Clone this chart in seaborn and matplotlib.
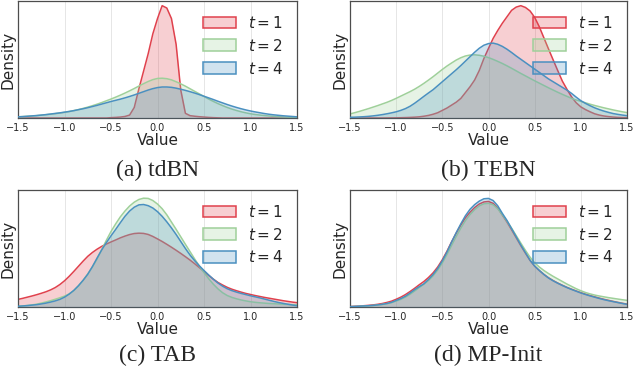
import numpy as np
import pandas as pd
import matplotlib
matplotlib.use("Agg")
import matplotlib.pyplot as plt
from matplotlib.patches import Patch
from matplotlib.colors import to_rgba
import seaborn as sns

# ---------------- data (density, arbitrary units = % of panel height)
x_grid = np.round(np.linspace(-1.5, 1.5, 61), 2)   # sample positions, step 0.05
x_ticks = [-1.5, -1.0, -0.5, 0.0, 0.5, 1.0, 1.5]
series_labels = ["$t = 1$", "$t = 2$", "$t = 4$"]
panel_captions = ["(a) tdBN", "(b) TEBN", "(c) TAB", "(d) MP-Init"]

tdbn_t1 = [0]*20 + [0.3, 0.5, 0.8, 1.3, 2.5, 9, 25, 40, 55, 72,
                    85, 96, 94, 85, 63, 24, 4, 2, 1.5, 1.1,
                    0.8, 0.5, 0.3, 0.15] + [0]*17
tdbn_t2 = [1.0, 1.2, 1.4, 1.7, 2.0, 2.4, 2.8, 3.2, 3.7, 4.2,
           4.8, 5.5, 6.3, 7.2, 8.2, 9.3, 10.5, 11.8, 13.2, 14.7,
           16.2, 17.8, 19.5, 21.3, 23.2, 25.2, 27.3, 29.3, 31.2, 32.8,
           33.8, 34.0, 33.6, 32.6, 31.0, 29.2, 27.2, 25.0, 22.8, 20.6,
           18.4, 16.2, 14.2, 12.3, 10.6, 9.0, 7.6, 6.4, 5.3, 4.4,
           3.6, 3.0, 2.5, 2.1, 1.7, 1.4, 1.1, 0.9, 0.7, 0.55, 0.45]
tdbn_t4 = [1.0, 1.2, 1.5, 1.8, 2.1, 2.5, 2.9, 3.4, 3.9, 4.4,
           5.0, 5.6, 6.3, 7.1, 7.9, 8.8, 9.8, 10.8, 11.9, 13.0,
           14.1, 15.1, 16.1, 17.2, 18.4, 19.7, 21.1, 22.5, 23.9, 25.1,
           26.0, 26.5, 26.5, 26.2, 25.5, 24.6, 23.6, 22.5, 21.3, 20.0,
           18.6, 17.2, 15.8, 14.3, 12.9, 11.5, 10.2, 9.0, 7.9, 6.9,
           6.0, 5.2, 4.5, 3.8, 3.2, 2.7, 2.3, 1.9, 1.6, 1.3, 1.0]

tebn_t1 = [0, 0, 0, 0, 0, 0, 0, 0, 0.05, 0.1,
           0.15, 0.25, 0.35, 0.5, 0.7, 1.0, 1.5, 2.2, 3.2, 4.5,
           6.5, 8.5, 11.0, 13.5, 16.7, 21.7, 26.7, 32.5, 40.6, 50.8,
           59.5, 68.0, 74.8, 81.0, 86.5, 92.0, 94.8, 96.0, 94.5, 91.5,
           86.0, 78.0, 68.5, 59.0, 49.7, 40.5, 31.5, 24.5, 18.0, 13.0,
           9.5, 7.2, 5.3, 3.6, 2.5, 1.7, 1.2, 0.8, 0.5, 0.35, 0.25]
tebn_t2 = [3.5, 4.5, 5.6, 6.8, 8.0, 9.3, 10.6, 12.0, 13.4, 15.0,
           16.8, 18.7, 20.6, 22.5, 24.6, 27.0, 29.6, 32.4, 35.3, 38.4,
           41.5, 44.4, 47.0, 49.5, 51.5, 53.0, 53.8, 54.0, 53.6, 52.8,
           51.6, 50.1, 48.4, 46.6, 44.6, 42.5, 40.3, 38.1, 36.0, 33.9,
           31.8, 29.8, 27.8, 25.8, 23.9, 22.0, 20.2, 18.5, 16.8, 15.4,
           14.2, 13.0, 11.8, 10.7, 9.7, 8.7, 7.8, 6.9, 6.1, 5.3, 4.6]
tebn_t4 = [0.6, 0.7, 0.9, 1.1, 1.4, 1.8, 2.3, 2.9, 3.6, 4.4,
           5.3, 6.5, 8.0, 10.0, 12.6, 15.5, 18.5, 21.4, 24.2, 27.6,
           31.0, 34.4, 37.8, 41.2, 44.8, 48.6, 52.4, 56.2, 59.6, 62.2,
           63.6, 64.0, 63.0, 61.2, 58.8, 56.0, 53.0, 50.2, 47.4, 44.6,
           41.8, 39.0, 36.2, 33.4, 31.0, 28.6, 26.2, 23.8, 21.0, 17.8,
           14.8, 12.5, 10.5, 8.7, 7.2, 5.9, 4.8, 3.8, 3.1, 2.5, 2.0]

tab_t1 = [6.5, 7.4, 8.4, 9.4, 10.5, 11.7, 13.0, 14.6, 16.6, 19.2,
          22.4, 26.2, 30.4, 34.8, 39.2, 43.3, 46.6, 49.4, 51.8, 53.8,
          55.6, 57.3, 59.1, 60.6, 61.9, 62.8, 63.1, 62.9, 62.0, 60.3,
          58.2, 56.0, 53.6, 51.1, 48.5, 45.8, 43.0, 40.1, 37.0, 33.7,
          30.4, 27.0, 23.8, 21.0, 18.8, 16.8, 15.2, 13.9, 12.7, 11.6,
          10.7, 9.8, 9.0, 8.2, 7.5, 6.8, 6.1, 5.4, 4.8, 4.2, 3.7]
tab_t2 = [0.6, 0.9, 1.3, 1.8, 2.4, 3.3, 4.3, 5.4, 6.6, 7.9,
          9.3, 11.2, 14.0, 18.0, 22.8, 28.2, 34.3, 41.0, 49.0, 57.0,
          64.5, 71.0, 77.0, 82.0, 86.3, 89.6, 91.9, 93.0, 92.8, 91.0,
          88.0, 84.0, 78.8, 72.6, 66.4, 60.0, 53.6, 47.3, 41.0, 35.0,
          29.4, 24.2, 19.5, 15.5, 12.2, 9.8, 8.2, 7.0, 6.0, 5.2,
          4.5, 4.0, 3.6, 3.3, 3.0, 2.8, 2.6, 2.4, 2.2, 2.0, 1.8]
tab_t4 = [0.6, 0.9, 1.2, 1.6, 2.0, 2.6, 3.3, 4.2, 5.2, 6.5,
          8.4, 11.0, 14.2, 18.2, 22.8, 28.0, 34.5, 41.8, 48.8, 55.0,
          60.8, 66.3, 72.0, 77.5, 82.0, 85.3, 87.3, 87.6, 86.6, 84.6,
          81.5, 77.5, 72.8, 67.6, 62.0, 56.0, 50.0, 44.4, 39.6, 35.2,
          31.2, 27.4, 23.8, 20.5, 17.8, 15.6, 14.0, 12.7, 11.6, 10.6,
          9.6, 8.7, 7.8, 6.8, 5.8, 4.8, 3.9, 3.1, 2.4, 1.7, 1.1]

mpinit_t1 = [0.4, 0.6, 0.8, 1.1, 1.4, 1.8, 2.3, 3.0, 3.9, 5.0,
             6.6, 8.4, 10.6, 13.2, 16.0, 19.0, 21.8, 25.2, 29.2, 34.2,
             40.4, 47.6, 55.6, 63.0, 70.0, 76.2, 81.0, 85.0, 88.0, 89.8,
             90.2, 88.6, 84.6, 78.6, 72.6, 66.0, 59.2, 52.4, 46.0, 39.8,
             34.9, 31.2, 27.9, 25.0, 22.6, 20.5, 18.6, 16.8, 15.2, 13.7,
             12.3, 11.0, 9.8, 8.7, 7.6, 6.6, 5.7, 4.8, 4.0, 3.2, 2.5]
mpinit_t2 = [0.3, 0.4, 0.6, 0.8, 1.0, 1.3, 1.7, 2.2, 2.8, 3.7,
             5.0, 6.5, 8.4, 10.8, 13.6, 16.6, 19.4, 22.6, 26.6, 31.6,
             37.6, 44.8, 52.6, 60.2, 67.4, 73.8, 79.0, 83.2, 86.4, 88.2,
             88.6, 87.4, 84.0, 78.8, 73.4, 67.4, 61.0, 54.6, 48.4, 42.6,
             37.8, 34.2, 31.2, 28.6, 26.2, 24.0, 21.8, 19.6, 17.6, 15.6,
             13.9, 12.4, 11.2, 10.2, 9.4, 8.7, 8.0, 7.4, 6.8, 6.2, 5.7]
mpinit_t4 = [0.3, 0.5, 0.7, 0.9, 1.1, 1.4, 1.8, 2.3, 3.0, 4.0,
             5.6, 7.2, 9.2, 11.9, 14.8, 17.4, 19.8, 23.5, 27.8, 33.0,
             39.5, 47.0, 55.5, 63.5, 71.0, 78.0, 83.5, 87.5, 90.5, 92.5,
             92.8, 91.0, 86.5, 80.0, 74.0, 67.0, 60.0, 53.0, 46.5, 40.0,
             35.0, 31.3, 27.8, 24.8, 22.4, 20.3, 18.4, 16.6, 15.0, 13.5,
             12.0, 10.7, 9.5, 8.4, 7.3, 6.3, 5.4, 4.6, 3.8, 3.0, 2.3]

panels = {
    "(a) tdBN": [tdbn_t1, tdbn_t2, tdbn_t4],
    "(b) TEBN": [tebn_t1, tebn_t2, tebn_t4],
    "(c) TAB": [tab_t1, tab_t2, tab_t4],
    "(d) MP-Init": [mpinit_t1, mpinit_t2, mpinit_t4],
}

rows = []
for cap, series in panels.items():
    for lab, vals in zip(series_labels, series):
        for xv, dv in zip(x_grid, vals):
            rows.append((cap, lab, xv, dv))
df = pd.DataFrame(rows, columns=["panel", "t", "Value", "Density"])

# ---------------- style
sns.set_style("white")
plt.rcParams["font.family"] = ["DejaVu Sans"]
plt.rcParams["mathtext.fontset"] = "dejavusans"

colors = ["#e0414d", "#9fd09a", "#4a90c0"]

fig = plt.figure(figsize=(6.36, 3.70), dpi=100)
W, H = 636.0, 370.0
boxes = [(18, 1, 297, 118), (350, 1, 627, 118),
         (18, 190, 297, 307), (350, 190, 627, 307)]
caption_y = [170, 170, 355, 355]

for i, cap in enumerate(panel_captions):
    x0, y0, x1, y1 = boxes[i]
    ax = fig.add_axes([x0 / W, 1 - y1 / H, (x1 - x0) / W, (y1 - y0) / H])
    sub = df[df["panel"] == cap]
    for j, lab in enumerate(series_labels):
        s = sub[sub["t"] == lab]
        ax.fill_between(s["Value"], s["Density"], 0, color=colors[j],
                        alpha=0.25, lw=0, zorder=1 + j)
        sns.lineplot(data=s, x="Value", y="Density", color=colors[j],
                     lw=1.1, ax=ax, legend=False, zorder=1.5 + j)
    ax.set_xlim(-1.5, 1.5)
    ax.set_ylim(0, 100)
    ax.set_xticks(x_ticks)
    ax.set_xticklabels([f"{v:.1f}".replace("-", "\u2212") for v in x_ticks])
    ax.set_yticks([])
    ax.tick_params(axis="x", labelsize=7, length=2, pad=1.5, width=0.6)
    ax.xaxis.grid(True, color="#e2e2e2", lw=0.6, zorder=0)
    ax.set_axisbelow(True)
    ax.set_xlabel("Value", fontsize=11, labelpad=0)
    ax.set_ylabel("Density", fontsize=11, labelpad=2)
    for sp in ax.spines.values():
        sp.set_color("#4d4d4d")
        sp.set_linewidth(0.9)
    handles = [Patch(facecolor=to_rgba(c, 0.25), edgecolor=c, lw=1.1)
               for c in colors]
    ax.legend(handles, series_labels, loc="upper right", frameon=False,
              fontsize=11, handlelength=2.1, handleheight=0.8,
              handletextpad=0.8, labelspacing=0.45, borderaxespad=0.5)
    fig.text(((x0 + x1) / 2) / W, 1 - caption_y[i] / H, cap,
             ha="center", va="center", fontsize=17,
             family=["Liberation Serif", "DejaVu Serif"])

fig.savefig("out.png", dpi=100)
